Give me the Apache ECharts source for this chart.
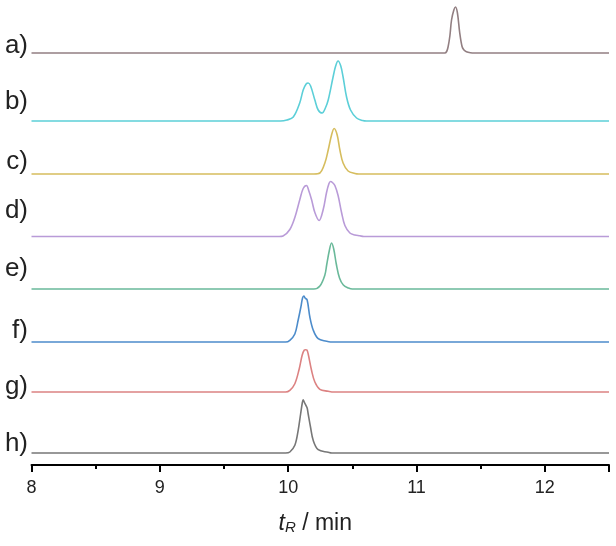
<!DOCTYPE html>
<html>
<head>
<meta charset="utf-8">
<script src="https://cdn.jsdelivr.net/npm/echarts@6/dist/echarts.min.js"></script>
<style>html,body{margin:0;padding:0;background:#fff;}#c{width:616px;height:546px;}</style>
</head>
<body>
<div id="c"></div>
<script>
// ---- data (retention time in min, signal height) ----
const traceLabels = ['a)', 'b)', 'c)', 'd)', 'e)', 'f)', 'g)', 'h)'];
const xTicks = [8, 9, 10, 11, 12];

const a_t = [8, 11.13, 11.16, 11.19, 11.22, 11.235, 11.246, 11.26, 11.273, 11.291, 11.304, 11.319, 11.337, 11.355, 11.37, 11.389, 11.42, 11.45, 11.48, 11.51, 12.5];
const a_y = [0, 0, 0, 0, 0, 1.5, 6, 17, 33, 43, 46, 40, 20, 6.5, 3, 1.3, 0.3, 0, 0, 0, 0];

const b_t = [8, 9.85, 9.88, 9.91, 9.94, 9.99, 10.04, 10.09, 10.117, 10.14, 10.156, 10.175, 10.208, 10.234, 10.265, 10.29, 10.312, 10.35, 10.37, 10.389, 10.41, 10.428, 10.455, 10.486, 10.533, 10.58, 10.61, 10.64, 10.67, 12.5];
const b_y = [0, 0, 0, 0, 0, 1, 4, 18, 31, 37, 38, 35, 21, 11, 8, 13, 21, 44, 55, 60, 55, 44, 24, 11, 3, 0.5, 0, 0, 0, 0];

const c_t = [8, 10.11, 10.14, 10.17, 10.2, 10.247, 10.286, 10.312, 10.338, 10.358, 10.382, 10.403, 10.428, 10.467, 10.52, 10.55, 10.58, 10.61, 12.5];
const c_y = [0, 0, 0, 0, 0, 1, 11, 24, 39, 45.5, 39, 24, 11, 3, 0.5, 0, 0, 0, 0];

const d_t = [8, 9.87, 9.9, 9.93, 9.96, 10.013, 10.052, 10.091, 10.117, 10.143, 10.16, 10.182, 10.208, 10.241, 10.273, 10.299, 10.318, 10.33, 10.345, 10.364, 10.389, 10.416, 10.442, 10.481, 10.52, 10.558, 10.59, 10.62, 10.65, 12.5];
const d_y = [0, 0, 0, 0, 0.5, 7, 19, 37, 48, 51, 46, 37, 24, 16, 27, 44, 53, 55, 54, 51, 41, 24, 11, 3.5, 1.5, 0.7, 0, 0, 0, 0];

const e_t = [8, 10.11, 10.14, 10.17, 10.2, 10.247, 10.286, 10.3, 10.32, 10.338, 10.355, 10.375, 10.4, 10.43, 10.47, 10.5, 10.53, 10.56, 12.5];
const e_y = [0, 0, 0, 0, 0, 3, 14, 24, 38, 46, 40, 25, 11, 4, 1, 0, 0, 0, 0];

const f_t = [8, 9.89, 9.92, 9.95, 9.98, 10.013, 10.052, 10.078, 10.099, 10.112, 10.122, 10.132, 10.148, 10.169, 10.195, 10.234, 10.299, 10.33, 10.36, 10.39, 12.5];
const f_y = [0, 0, 0, 0, 0, 1.7, 8, 22, 35, 44, 46, 44, 42, 25, 12, 3.3, 0.7, 0, 0, 0, 0];

const g_t = [8, 9.89, 9.92, 9.95, 9.98, 10.013, 10.052, 10.086, 10.109, 10.126, 10.136, 10.146, 10.156, 10.182, 10.208, 10.247, 10.312, 10.34, 10.37, 10.4, 12.5];
const g_y = [0, 0, 0, 0, 0, 1.7, 8.3, 23, 36.7, 42, 42.3, 42, 38, 21.7, 10, 2.7, 0.7, 0, 0, 0, 0];

const h_t = [8, 9.89, 9.92, 9.95, 9.98, 10.013, 10.052, 10.078, 10.097, 10.11, 10.117, 10.125, 10.138, 10.148, 10.156, 10.174, 10.195, 10.234, 10.312, 10.34, 10.37, 10.4, 12.5];
const h_y = [0, 0, 0, 0, 0, 1, 7.7, 22.7, 39, 50, 53.3, 51, 47.7, 45, 39, 26, 12.7, 3.3, 0.7, 0, 0, 0, 0];

// ---- layout / style ----
const traceTimes = [a_t, b_t, c_t, d_t, e_t, f_t, g_t, h_t];
const traceVals = [a_y, b_y, c_y, d_y, e_y, f_y, g_y, h_y];
const stackOffsets = [412, 344, 291, 228.5, 176, 123, 73, 12];   // vertical stacking offsets
const labelLevels = [418, 362, 302, 253, 195, 133, 77, 20];      // label centres (same units)
const colors = ['#927f82', '#5ccfd8', '#d6bd5e', '#b99bd8', '#6ab99a', '#4d8ccb', '#dc8282', '#777777'];

const FONT = '"Liberation Sans", Arial, sans-serif';

const series = traceTimes.map((ts, i) => ({
  type: 'line',
  name: traceLabels[i],
  data: ts.map((t, k) => [t, stackOffsets[i] + traceVals[i][k]]),
  showSymbol: false,
  smooth: 0.35,
  lineStyle: { color: colors[i], width: 1.6 },
  itemStyle: { color: colors[i] },
  silent: true,
  animation: false,
  z: 2
}));

const chart = echarts.init(document.getElementById('c'), null, { renderer: 'canvas' });
chart.setOption({
  animation: false,
  backgroundColor: '#ffffff',
  grid: { left: 31.5, right: 7, top: 0, bottom: 81 },
  xAxis: {
    type: 'value', min: 8, max: 12.5, interval: 1,
    axisLine: { show: true, lineStyle: { color: '#000', width: 2 } },
    axisTick: { show: true, length: 7, lineStyle: { color: '#000', width: 2 } },
    minorTick: { show: true, splitNumber: 2, length: 4, lineStyle: { color: '#000', width: 2 } },
    splitLine: { show: false },
    axisLabel: {
      margin: 14, fontSize: 18, color: '#222', fontFamily: FONT,
      formatter: v => (xTicks.indexOf(v) >= 0 ? String(v) : '')
    },
    name: '{i|t}{s|R}{n| / min}',
    nameLocation: 'middle',
    nameGap: 42,
    nameTextStyle: {
      padding: [0, 10, 0, 0],
      rich: {
        i: { fontSize: 23, fontStyle: 'italic', fontFamily: FONT, color: '#222', lineHeight: 28, verticalAlign: 'bottom' },
        s: { fontSize: 15, fontStyle: 'italic', fontFamily: FONT, color: '#222', lineHeight: 14, verticalAlign: 'bottom' },
        n: { fontSize: 23, fontFamily: FONT, color: '#222', lineHeight: 28, verticalAlign: 'bottom' }
      }
    }
  },
  yAxis: { type: 'value', min: 0, max: 465, show: false },
  series: series
});

const labelGraphics = traceLabels.map((lab, i) => {
  const py = chart.convertToPixel({ gridIndex: 0 }, [8, labelLevels[i]])[1];
  return {
    type: 'text', right: 616 - 28, top: py - 14,
    style: { text: lab, font: '26px ' + FONT, fill: '#222', textAlign: 'right', textVerticalAlign: 'top' },
    silent: true
  };
});
chart.setOption({ graphic: labelGraphics });
</script>
</body>
</html>
